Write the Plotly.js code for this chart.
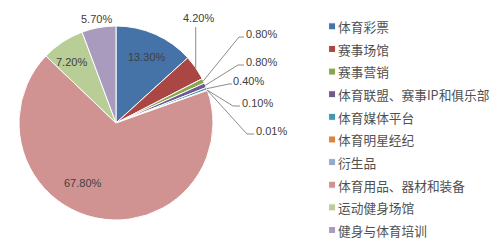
<!DOCTYPE html>
<html>
<head>
<meta charset="utf-8">
<script src="https://cdn.plot.ly/plotly-3.0.1.min.js"></script>
<style>html,body{margin:0;padding:0;background:#fff;}#chart{width:501px;height:250px;}</style>
</head>
<body>
<div id="chart"></div>
<script>
// ---- data ----
const categories = ["体育彩票","赛事场馆","赛事营销","体育联盟、赛事IP和俱乐部","体育媒体平台","体育明星经纪","衍生品","体育用品、器材和装备","运动健身场馆","健身与体育培训"];
const values = [13.30, 4.20, 0.80, 0.80, 0.40, 0.10, 0.01, 67.80, 7.20, 5.70];
const labelTexts = ["13.30%","4.20%","0.80%","0.80%","0.40%","0.10%","0.01%","67.80%","7.20%","5.70%"];

// ---- style / layout config ----
const colors = ["#4572A7","#AA4643","#89A54E","#71588F","#4198AF","#DB843D","#93A9CF","#D19392","#B9CD96","#A99BBD"];
const W = 501, H = 250;
const pie = {cx: 116, cy: 123, r: 97};           // pixel geometry of the pie
// label placement (pixel text centre; optional leader elbow + stub end)
const labelPlace = [
  {tx:147, ty:57},
  {tx:198, ty:18, elbow:"vertical", ey:27},
  {tx:261, ty:34, bx:239, by:37, sx:244},
  {tx:261, ty:62, bx:238, by:65, sx:244},
  {tx:248, ty:81, bx:229, by:84, sx:232},
  {tx:257, ty:103, bx:233, by:106, sx:240},
  {tx:271, ty:131, bx:247, by:134, sx:254},
  {tx:83, ty:183},
  {tx:71, ty:62},
  {tx:96, ty:19}
];

const px2x = p => p / W;
const px2y = p => 1 - p / H;

const trace = {
  type: "pie",
  labels: categories.map(c => '<span style="font-size:12.7px">' + c + '</span>'),
  values: values,
  textinfo: "none",
  hoverinfo: "none",
  sort: false,
  direction: "clockwise",
  rotation: 0,
  marker: {colors: colors, line: {color: "#ffffff", width: 1}},
  domain: {x: [px2x(pie.cx - pie.r), px2x(pie.cx + pie.r)], y: [px2y(pie.cy + pie.r), px2y(pie.cy - pie.r)]}
};

// slice edge points computed from the data
const total = values.reduce((a, b) => a + b, 0);
let cum = 0;
const annotations = [], shapes = [];
values.forEach((v, i) => {
  const mid = (cum + v / 2) / total;
  cum += v;
  const th = 2 * Math.PI * mid;
  const ex = pie.cx + pie.r * Math.sin(th);
  const ey = pie.cy - pie.r * Math.cos(th);
  const L = labelPlace[i];
  annotations.push({
    x: px2x(L.tx), y: px2y(L.ty), xref: "paper", yref: "paper",
    xanchor: "center", yanchor: "middle", showarrow: false,
    text: labelTexts[i],
    font: {family: "Liberation Sans, Arial, sans-serif", size: 11, color: "#404040"}
  });
  let path = null;
  if (L.elbow === "vertical") {
    path = `M${px2x(ex)},${px2y(ey)} L${px2x(ex)},${px2y(L.ey)}`;
  } else if (L.bx !== undefined) {
    path = `M${px2x(ex)},${px2y(ey)} L${px2x(L.bx)},${px2y(L.by)} L${px2x(L.sx)},${px2y(L.by)}`;
  }
  if (path) shapes.push({type: "path", xref: "paper", yref: "paper", path: path,
    line: {color: "#8c8c8c", width: 1}});
});

const layout = {
  width: W, height: H,
  margin: {l: 0, r: 0, t: 0, b: 0},
  paper_bgcolor: "#ffffff",
  showlegend: true,
  legend: {
    x: 0.595, y: 0.96, xanchor: "left", yanchor: "top",
    font: {family: "Noto Sans CJK SC, sans-serif", size: 15.1, color: "#505050"},
    itemwidth: 30, traceorder: "normal"
  },
  annotations: annotations,
  shapes: shapes
};

Plotly.newPlot("chart", [trace], layout, {displayModeBar: false, staticPlot: true}).then(() => {
  document.querySelectorAll("#chart path.legendpie").forEach(p => {
    p.setAttribute("d", "M17.5,3.5H10.5V-3.5H17.5Z");
  });
});
</script>
</body>
</html>
